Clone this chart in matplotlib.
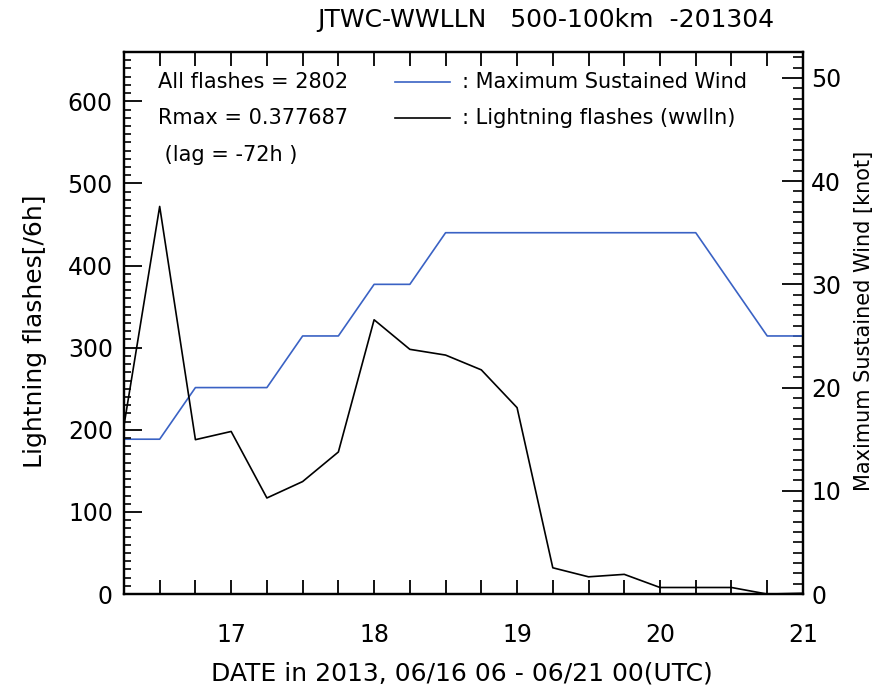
import numpy as np
import matplotlib
matplotlib.use("Agg")
import matplotlib.pyplot as plt
from matplotlib.ticker import MultipleLocator, FuncFormatter

# ===============================
# DADOS (6-hourly, 06/16 06UTC - 06/21 00UTC)
# ===============================
dias = [16.25, 16.5, 16.75, 17.0, 17.25, 17.5, 17.75, 18.0, 18.25, 18.5,
        18.75, 19.0, 19.25, 19.5, 19.75, 20.0, 20.25, 20.5, 20.75, 21.0]
flashes = [205, 472, 188, 198, 117, 137, 173, 334, 298, 291,
           273, 227, 32, 21, 24, 8, 8, 8, 0, 1]
vento = [15, 15, 20, 20, 20, 25, 25, 30, 30, 35,
         35, 35, 35, 35, 35, 35, 35, 30, 25, 25]

titulo = "JTWC-WWLLN   500-100km  -201304"
xlabel = "DATE in 2013, 06/16 06 - 06/21 00(UTC)"
ylabel_esq = "Lightning flashes[/6h]"
ylabel_dir = "Maximum Sustained Wind [knot]"
info = ["All flashes = 2802", "Rmax = 0.377687", " (lag = -72h )"]
legenda = [": Maximum Sustained Wind", ": Lightning flashes (wwlln)"]

AZUL = "#3a62c4"
W, H = 879, 694

fig = plt.figure(figsize=(8.79, 6.94), dpi=100)
ax = fig.add_axes([0.141, 0.144, 0.7725, 0.781])
ax2 = ax.twinx()

ax.plot(dias, flashes, color="black", linewidth=1.2, zorder=3)
ax2.plot(dias, vento, color=AZUL, linewidth=1.2)
ax.set_zorder(ax2.get_zorder() + 1)
ax.patch.set_visible(False)

ax.set_xlim(16.25, 21.0)
ax.set_ylim(0, 660)
ax2.set_ylim(0, 52.5)

# eixo x: ticks a cada 6h, rotulos so nos dias
ax.set_xticks(np.arange(16.5, 21.01, 0.25))
ax.xaxis.set_major_formatter(FuncFormatter(
    lambda v, p: f"{int(round(v))}" if abs(v - round(v)) < 1e-6 else ""))
ax.tick_params(axis="x", direction="in", length=10, width=1.3, top=True,
               labelsize=17, pad=21)

ax.yaxis.set_major_locator(MultipleLocator(100))
ax.yaxis.set_minor_locator(MultipleLocator(10))
ax.tick_params(axis="y", which="major", direction="in", length=13, width=1.3,
               labelsize=17, pad=8)
ax.tick_params(axis="y", which="minor", direction="in", length=5, width=1.2)

ax2.yaxis.set_major_locator(MultipleLocator(10))
ax2.yaxis.set_minor_locator(MultipleLocator(1))
ax2.tick_params(axis="y", which="major", direction="in", length=15, width=1.3,
                labelsize=17, pad=6)
ax2.tick_params(axis="y", which="minor", direction="in", length=7, width=1.2)

for a in (ax, ax2):
    for s in a.spines.values():
        s.set_linewidth(1.6)

# rotulos dos eixos
fig.text(462 / W, 1 - 673 / H, xlabel, fontsize=18, ha="center", va="center")
fig.text(35 / W, 1 - 331 / H, ylabel_esq, fontsize=18, rotation=90,
         ha="center", va="center")
fig.text(864 / W, 1 - 321 / H, ylabel_dir, fontsize=15, rotation=90,
         ha="center", va="center")

fig.text(546 / W, 1 - 20 / H, titulo, fontsize=18, ha="center", va="center")

# textos internos
for i, t in enumerate(info):
    fig.text(158 / W, 1 - (82 + 36.5 * i) / H, t, fontsize=15,
             ha="left", va="center")

# legenda manual
for i, (t, cor) in enumerate(zip(legenda, [AZUL, "black"])):
    y = 1 - (82 + 36 * i) / H
    fig.add_artist(plt.Line2D([395 / W, 450 / W], [y, y], color=cor,
                              linewidth=1.2, transform=fig.transFigure))
    fig.text(462 / W, y, t, fontsize=15, ha="left", va="center")

plt.savefig("out.png", dpi=100)
plt.close()
